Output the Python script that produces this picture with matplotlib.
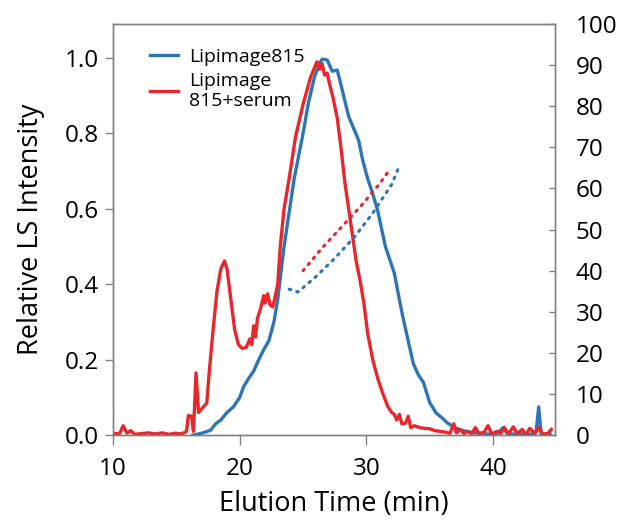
import numpy as np
import matplotlib.pyplot as plt

# Lipimage815 + serum (red), relative LS intensity
serum_t = [10.0, 10.5, 10.8, 11.1, 11.4, 11.7, 12.2, 12.8, 13.3, 13.9, 14.4, 14.9,
           15.4, 15.8, 15.95, 16.2, 16.35, 16.55, 16.75, 17.0, 17.4, 17.6, 17.9,
           18.2, 18.5, 18.8, 19.0, 19.3, 19.6, 19.9, 20.2, 20.5, 20.8, 20.95, 21.1,
           21.25, 21.4, 21.6, 21.9, 22.0, 22.2, 22.4, 22.6, 22.75, 23.0, 23.2,
           23.5, 23.9, 24.4, 25.0, 25.6, 26.1, 26.3, 26.5, 26.7, 26.9, 27.1, 27.4,
           27.7, 28.0, 28.3, 28.6, 28.9, 29.2, 29.5, 29.8, 30.1, 30.5, 30.9, 31.3,
           31.7, 32.0, 32.2, 32.4, 32.6, 32.8, 33.1, 33.3, 33.5, 33.8, 34.2, 34.6,
           35.0, 35.4, 35.8, 36.2, 36.6, 36.9, 37.1, 37.4, 37.7, 38.0, 38.3, 38.6,
           38.9, 39.3, 39.6, 39.9, 40.3, 40.6, 40.9, 41.2, 41.6, 41.9, 42.3, 42.6,
           42.9, 43.3, 43.6, 43.9, 44.3, 44.6]
serum_ls = [0.005, 0.003, 0.025, 0.005, 0.012, 0.002, 0.004, 0.006, 0.003, 0.006,
            0.002, 0.005, 0.003, 0.01, 0.052, 0.05, 0.01, 0.165, 0.06, 0.07, 0.085,
            0.17, 0.28, 0.38, 0.44, 0.462, 0.44, 0.36, 0.28, 0.24, 0.23, 0.232,
            0.255, 0.24, 0.29, 0.26, 0.31, 0.33, 0.37, 0.35, 0.375, 0.345, 0.34,
            0.36, 0.40, 0.50, 0.60, 0.68, 0.79, 0.877, 0.95, 0.99, 0.97, 0.985,
            0.955, 0.96, 0.93, 0.89, 0.84, 0.76, 0.67, 0.60, 0.53, 0.46, 0.41,
            0.35, 0.27, 0.20, 0.15, 0.11, 0.075, 0.06, 0.055, 0.04, 0.055, 0.03,
            0.032, 0.05, 0.02, 0.025, 0.02, 0.018, 0.017, 0.012, 0.01, 0.008,
            0.005, 0.03, 0.006, 0.015, 0.004, 0.01, 0.003, 0.02, 0.004, 0.008,
            0.025, 0.003, 0.01, 0.004, 0.02, 0.003, 0.022, 0.004, 0.015, 0.002,
            0.018, 0.004, 0.02, 0.003, 0.004, 0.015]

# Lipimage815 alone (blue)
lipi_t = [16.3, 17.0, 17.7, 18.1, 18.5, 19.0, 19.5, 20.0, 20.3, 20.7, 21.1, 21.5,
          21.9, 22.3, 22.7, 23.0, 23.5, 24.3, 25.0, 25.4, 25.9, 26.3, 26.5, 26.9,
          27.1, 27.3, 27.7, 28.0, 28.2, 28.6, 29.2, 29.4, 29.7, 30.1, 30.5, 30.9,
          31.5, 32.2, 32.6, 32.9, 33.3, 33.7, 34.1, 34.5, 35.0, 35.5, 36.0, 36.4,
          37.0, 37.5, 38.2, 38.8, 39.5, 40.2, 40.5, 40.8, 41.1, 41.5, 42.0, 42.5,
          43.0, 43.4, 43.6, 43.8, 44.1, 44.5]
lipi_ls = [0.0, 0.005, 0.013, 0.03, 0.04, 0.06, 0.075, 0.10, 0.128, 0.15, 0.17,
           0.20, 0.227, 0.25, 0.30, 0.36, 0.50, 0.68, 0.80, 0.877, 0.95, 0.985,
           0.997, 0.995, 0.98, 0.965, 0.968, 0.928, 0.90, 0.845, 0.797, 0.78,
           0.73, 0.68, 0.64, 0.594, 0.50, 0.43, 0.36, 0.31, 0.25, 0.19, 0.16,
           0.14, 0.086, 0.059, 0.045, 0.032, 0.02, 0.013, 0.008, 0.005, 0.003,
           0.002, 0.01, 0.02, 0.005, 0.003, 0.002, 0.004, 0.002, 0.01, 0.075,
           0.003, 0.002, 0.003]

# dotted traces on the right axis
serum_dot_t = [25.0, 26.5, 28.0, 29.5, 31.0, 31.7]
serum_dot_v = [40.0, 45.5, 50.5, 55.5, 61.0, 64.0]
lipi_dot_t = [23.9, 24.6, 26.0, 27.5, 29.0, 30.5, 32.0, 32.6]
lipi_dot_v = [35.5, 34.8, 38.5, 43.0, 48.0, 54.0, 61.0, 65.5]

blue = '#2E75B6'
red = '#E8262B'
grey = '#808080'

plt.rcParams['font.family'] = ['Open Sans', 'DejaVu Sans']

fig = plt.figure(figsize=(6.28, 5.23), dpi=100)
ax1 = fig.add_axes([0.18, 0.168, 0.704, 0.786])
ax2 = ax1.twinx()

l1, = ax1.plot(lipi_t, lipi_ls, color=blue, lw=2.4, label='Lipimage815')
l2, = ax1.plot(serum_t, serum_ls, color=red, lw=2.4, label='Lipimage\n815+serum')
ax2.plot(lipi_dot_t, lipi_dot_v, color=blue, lw=2.2, ls=(0, (0.6, 2.0)),
         dash_capstyle='round')
ax2.plot(serum_dot_t, serum_dot_v, color=red, lw=2.2, ls=(0, (0.6, 2.0)),
         dash_capstyle='round')

ax1.set_xlim(10, 44.9)
ax1.set_ylim(0, 1.09)
ax2.set_ylim(0, 100)
ax1.set_xticks([10, 20, 30, 40])
ax1.set_yticks(np.arange(0, 1.01, 0.2))
ax1.set_yticklabels(['%.1f' % v for v in np.arange(0, 1.01, 0.2)])
ax2.set_yticks(np.arange(0, 101, 10))

for ax in (ax1, ax2):
    for s in ax.spines.values():
        s.set_color(grey)
        s.set_linewidth(1.0)
ax1.tick_params(axis='y', direction='out', length=6, width=1, color=grey,
                labelsize=17.5, pad=4)
ax1.tick_params(axis='x', direction='out', length=7, width=1, color=grey,
                labelsize=17.5, pad=9)
ax2.tick_params(axis='y', direction='in', length=4, width=1, color=grey,
                labelsize=17.5, pad=15)

ax1.set_xlabel('Elution Time (min)', fontsize=19.5, labelpad=6)
ax1.set_ylabel('Relative LS Intensity', fontsize=19.5, labelpad=14)

ax1.legend(handles=[l1, l2], loc='upper left', bbox_to_anchor=(0.045, 0.985),
           frameon=False, fontsize=14, handlelength=1.4, labelspacing=0.3,
           handletextpad=0.6)

fig.savefig('out.png', dpi=100)
